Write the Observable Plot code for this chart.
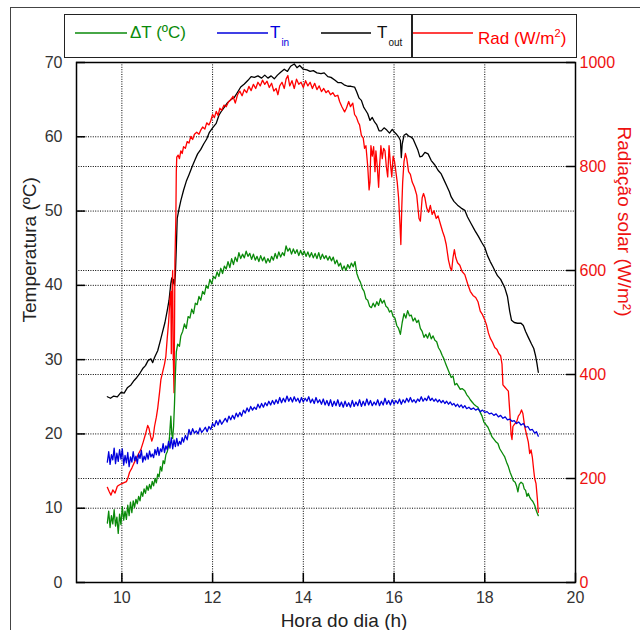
<!DOCTYPE html>
<html><head><meta charset="utf-8">
<script src="https://cdn.jsdelivr.net/npm/d3@7"></script>
<script src="https://cdn.jsdelivr.net/npm/@observablehq/plot@0.6"></script>
<style>
body{margin:0;background:#fff;font-family:Arial,"Liberation Sans",sans-serif;}
#wrap{position:relative;width:640px;height:630px;overflow:hidden;}
#border{position:absolute;left:10px;top:7px;width:700px;height:700px;border-left:1.5px solid #444;border-top:1.5px solid #444;}
#chart{position:absolute;left:0;top:0;}
#legend{position:absolute;left:64px;top:14px;width:513px;height:44px;border:1.5px solid #222;box-sizing:border-box;background:#fff;font-size:17px;}
#legend svg.ln{position:absolute;top:16px;overflow:visible;}
#legend .tx{position:absolute;top:8px;white-space:nowrap;line-height:20px;}
#legend .sub{font-size:10px;position:relative;top:8px;margin-left:1px;}
#legend .div{position:absolute;left:346px;top:0;height:100%;width:1.5px;background:#222;}
</style>
</head><body>
<div id="wrap"><div id="border"></div><div id="chart"></div><div id="legend"></div></div>
<script>
// ---- data ----
const xTicks = [10, 12, 14, 16, 18, 20];
const xGrid = [10, 12, 14, 16, 18];
const yTicks = [0, 10, 20, 30, 40, 50, 60, 70];
const yGrid = [10, 20, 30, 40, 50, 60];
const radTicks = [0, 200, 400, 600, 800, 1000];
const radGrid = [200, 400, 600, 800];
const tMax = 70, radMax = 1000;

const seriesNames = ["ΔT (ºC)", "T_in", "T_out", "Rad (W/m²)"];
const seriesColors = ["#0a8a0a", "#0000dd", "#000000", "#ff0000"];

// T_out (ºC)
const tOut = [[9.68,25.0],[9.75,24.8],[9.82,25.1],[9.9,25.0],[9.98,25.6],[10.05,25.5],[10.12,26.2],[10.2,26.6],[10.27,27.2],[10.33,27.6],[10.4,28.2],[10.46,28.8],[10.52,29.2],[10.58,29.9],[10.64,30.1],[10.68,29.6],[10.72,30.3],[10.79,31.2],[10.85,32.6],[10.9,33.8],[10.95,35.0],[11.0,36.6],[11.04,38.0],[11.08,40.3],[11.1,41.0],[11.12,40.2],[11.14,40.8],[11.16,40.0],[11.18,41.5],[11.2,45.0],[11.22,49.0],[11.26,50.3],[11.3,51.4],[11.36,52.8],[11.42,54.0],[11.48,54.9],[11.55,56.0],[11.62,57.0],[11.67,57.7],[11.74,58.3],[11.8,59.0],[11.87,59.7],[11.93,60.6],[12.0,61.2],[12.08,61.8],[12.14,62.9],[12.2,63.5],[12.26,64.0],[12.33,64.6],[12.4,65.0],[12.48,65.3],[12.55,66.0],[12.62,66.7],[12.7,67.1],[12.78,67.6],[12.85,68.1],[12.92,68.0],[13.0,68.2],[13.08,67.9],[13.15,68.3],[13.22,67.9],[13.29,68.2],[13.36,67.8],[13.43,68.3],[13.5,68.7],[13.58,69.1],[13.65,68.8],[13.72,69.5],[13.8,69.8],[13.86,69.3],[13.92,69.6],[14.0,69.1],[14.08,69.0],[14.15,68.8],[14.22,68.9],[14.3,68.6],[14.39,68.5],[14.46,68.6],[14.54,68.1],[14.61,68.0],[14.7,67.6],[14.76,67.3],[14.83,67.3],[14.9,67.0],[14.98,66.8],[15.05,66.8],[15.13,66.7],[15.18,66.0],[15.23,65.2],[15.28,64.9],[15.33,64.0],[15.38,63.5],[15.42,63.1],[15.47,62.2],[15.52,62.6],[15.57,62.0],[15.62,61.6],[15.67,60.8],[15.72,60.8],[15.78,61.2],[15.84,60.9],[15.9,60.5],[15.96,61.0],[16.01,60.6],[16.06,60.3],[16.1,60.0],[16.14,59.5],[16.16,57.2],[16.18,59.0],[16.22,60.2],[16.27,60.4],[16.32,60.1],[16.37,60.0],[16.42,59.7],[16.47,59.0],[16.52,58.3],[16.57,57.3],[16.62,57.4],[16.68,57.9],[16.75,57.7],[16.82,56.8],[16.9,56.2],[16.97,55.5],[17.04,55.0],[17.1,54.2],[17.16,53.4],[17.22,52.6],[17.26,51.9],[17.32,51.3],[17.4,50.8],[17.48,50.4],[17.56,50.1],[17.62,49.2],[17.7,48.3],[17.78,47.4],[17.86,46.6],[17.93,45.8],[18.0,45.1],[18.06,44.0],[18.12,43.2],[18.18,42.5],[18.22,42.0],[18.28,41.3],[18.35,40.8],[18.44,39.7],[18.5,38.5],[18.55,36.5],[18.59,35.3],[18.65,35.0],[18.72,34.9],[18.8,34.9],[18.85,34.6],[18.9,33.8],[18.96,33.0],[19.03,32.1],[19.08,31.5],[19.12,30.5],[19.15,29.5],[19.18,28.3]];

// Radiation (W/m²)
const rad = [[9.68,183],[9.72,175],[9.76,168],[9.8,178],[9.85,172],[9.9,185],[9.95,188],[10.0,190],[10.05,192],[10.1,194],[10.13,200],[10.17,212],[10.22,220],[10.27,230],[10.32,238],[10.37,248],[10.42,256],[10.47,270],[10.52,285],[10.57,302],[10.6,296],[10.63,282],[10.66,272],[10.69,280],[10.72,300],[10.76,318],[10.79,335],[10.83,365],[10.86,390],[10.9,405],[10.94,420],[10.97,435],[11.0,470],[11.03,500],[11.06,545],[11.08,560],[11.09,440],[11.1,540],[11.12,600],[11.13,450],[11.15,365],[11.16,480],[11.17,620],[11.19,700],[11.2,790],[11.21,818],[11.24,822],[11.27,815],[11.3,830],[11.33,825],[11.36,838],[11.4,835],[11.44,848],[11.48,845],[11.52,858],[11.56,852],[11.6,862],[11.65,866],[11.7,862],[11.74,870],[11.78,876],[11.83,872],[11.87,884],[11.92,880],[11.96,888],[12.0,900],[12.04,894],[12.08,906],[12.12,898],[12.16,912],[12.2,908],[12.25,918],[12.3,915],[12.35,924],[12.4,928],[12.45,935],[12.5,922],[12.55,938],[12.6,945],[12.65,936],[12.7,948],[12.75,942],[12.8,954],[12.85,946],[12.9,958],[12.95,950],[13.0,962],[13.05,955],[13.1,966],[13.15,958],[13.2,964],[13.25,952],[13.3,960],[13.35,945],[13.4,950],[13.44,938],[13.48,955],[13.53,962],[13.58,950],[13.62,968],[13.66,975],[13.7,955],[13.75,965],[13.8,950],[13.85,968],[13.9,958],[13.95,962],[14.0,952],[14.05,965],[14.1,955],[14.15,962],[14.2,950],[14.25,960],[14.3,948],[14.35,955],[14.4,944],[14.45,950],[14.5,942],[14.55,946],[14.6,938],[14.65,942],[14.7,935],[14.76,937],[14.8,925],[14.85,915],[14.91,905],[14.95,912],[15.0,925],[15.04,915],[15.09,922],[15.13,900],[15.17,895],[15.21,885],[15.24,880],[15.28,860],[15.32,855],[15.35,835],[15.38,840],[15.42,800],[15.45,755],[15.47,770],[15.49,840],[15.52,820],[15.55,838],[15.58,790],[15.6,830],[15.63,800],[15.66,760],[15.68,800],[15.71,840],[15.74,815],[15.77,835],[15.8,830],[15.83,800],[15.86,780],[15.89,840],[15.92,805],[15.95,780],[15.98,820],[16.01,810],[16.04,790],[16.07,770],[16.1,740],[16.13,690],[16.15,650],[16.17,720],[16.19,770],[16.22,810],[16.25,825],[16.28,815],[16.32,790],[16.36,785],[16.4,770],[16.45,760],[16.5,745],[16.55,700],[16.58,695],[16.62,740],[16.65,748],[16.68,740],[16.72,720],[16.76,712],[16.8,725],[16.84,708],[16.88,715],[16.93,700],[16.97,705],[17.02,690],[17.07,675],[17.11,665],[17.15,650],[17.2,620],[17.24,605],[17.27,600],[17.3,625],[17.33,640],[17.36,625],[17.4,615],[17.45,610],[17.5,598],[17.56,592],[17.62,575],[17.68,560],[17.74,552],[17.8,548],[17.85,540],[17.9,522],[17.95,515],[18.0,505],[18.04,495],[18.08,480],[18.12,470],[18.17,462],[18.22,452],[18.27,448],[18.31,440],[18.35,436],[18.38,420],[18.4,380],[18.44,376],[18.48,372],[18.52,368],[18.55,330],[18.58,285],[18.6,275],[18.62,300],[18.66,305],[18.7,308],[18.74,320],[18.78,325],[18.81,332],[18.84,325],[18.88,300],[18.92,285],[18.96,270],[18.99,248],[19.02,255],[19.05,240],[19.08,215],[19.1,200],[19.13,190],[19.16,160],[19.18,135]];

// T_in (ºC)
const tIn = [[9.68,16.2],[9.71,17.6],[9.74,15.9],[9.77,17.2],[9.8,16.5],[9.83,18.1],[9.86,16.0],[9.89,17.4],[9.92,16.3],[9.95,17.9],[9.98,16.6],[10.01,18.0],[10.04,15.8],[10.07,17.1],[10.1,16.1],[10.13,17.5],[10.16,15.6],[10.19,16.9],[10.22,16.2],[10.25,17.6],[10.28,16.4],[10.31,17.0],[10.34,16.0],[10.37,17.3],[10.4,16.7],[10.43,17.8],[10.46,16.2],[10.49,17.0],[10.52,16.5],[10.55,17.4],[10.58,16.6],[10.61,17.7],[10.64,16.9],[10.67,17.3],[10.7,16.8],[10.73,17.9],[10.76,17.2],[10.79,18.2],[10.82,17.1],[10.85,18.0],[10.88,17.6],[10.91,18.7],[10.94,17.5],[10.97,18.4],[11.0,17.9],[11.03,19.0],[11.06,18.1],[11.09,19.5],[11.12,18.0],[11.15,19.2],[11.18,18.3],[11.21,19.4],[11.24,18.4],[11.27,19.0],[11.3,18.6],[11.33,19.5],[11.36,18.9],[11.4,19.8],[11.44,19.2],[11.48,20.6],[11.52,19.9],[11.56,20.7],[11.6,20.1],[11.64,20.4],[11.68,20.0],[11.72,20.8],[11.76,20.2],[11.8,20.5],[11.84,20.9],[11.88,20.3],[11.92,21.0],[11.96,20.6],[12.0,21.4],[12.04,21.0],[12.08,21.8],[12.12,21.2],[12.16,21.9],[12.2,21.3],[12.24,21.7],[12.28,22.1],[12.32,21.6],[12.36,22.4],[12.4,21.9],[12.44,22.5],[12.48,22.0],[12.52,22.8],[12.56,22.3],[12.6,22.9],[12.64,22.4],[12.68,23.2],[12.72,22.8],[12.76,23.5],[12.8,23.0],[12.84,23.7],[12.88,23.2],[12.92,23.6],[12.96,23.3],[13.0,24.0],[13.04,23.5],[13.08,24.1],[13.12,23.6],[13.16,24.2],[13.2,23.8],[13.24,24.4],[13.28,23.9],[13.32,24.5],[13.36,24.0],[13.4,24.6],[13.44,24.1],[13.48,24.9],[13.52,24.2],[13.56,24.8],[13.6,24.3],[13.64,25.1],[13.68,24.4],[13.72,24.9],[13.76,24.3],[13.8,25.0],[13.84,24.4],[13.88,24.8],[13.92,24.2],[13.96,24.9],[14.0,24.3],[14.04,24.8],[14.08,24.4],[14.12,25.0],[14.16,24.2],[14.2,24.7],[14.24,24.1],[14.28,24.9],[14.32,24.2],[14.36,24.6],[14.4,24.0],[14.44,24.7],[14.48,23.9],[14.52,24.5],[14.56,23.8],[14.6,24.6],[14.64,23.7],[14.68,24.4],[14.72,23.8],[14.76,24.6],[14.8,23.7],[14.84,24.3],[14.88,23.6],[14.92,24.4],[14.96,23.7],[15.0,24.2],[15.04,23.6],[15.08,24.5],[15.12,23.7],[15.16,24.3],[15.2,23.8],[15.24,24.6],[15.28,23.7],[15.32,24.4],[15.36,23.8],[15.4,24.7],[15.44,23.9],[15.48,24.5],[15.52,23.8],[15.56,24.3],[15.6,23.9],[15.64,24.6],[15.68,23.8],[15.72,24.4],[15.76,23.9],[15.8,24.8],[15.84,24.0],[15.88,24.5],[15.92,23.9],[15.96,24.6],[16.0,24.0],[16.04,24.5],[16.08,24.1],[16.12,24.7],[16.16,24.0],[16.2,24.6],[16.24,24.2],[16.28,24.8],[16.32,24.3],[16.36,24.9],[16.4,24.3],[16.44,24.6],[16.48,24.2],[16.52,24.7],[16.56,24.4],[16.6,25.0],[16.64,24.4],[16.68,24.8],[16.72,24.5],[16.76,25.1],[16.8,24.5],[16.84,24.8],[16.88,24.4],[16.92,24.7],[16.96,24.3],[17.0,24.6],[17.04,24.2],[17.08,24.5],[17.12,24.1],[17.16,24.4],[17.2,24.0],[17.24,24.3],[17.28,23.9],[17.32,24.1],[17.36,23.7],[17.4,24.0],[17.44,23.6],[17.48,23.9],[17.52,23.5],[17.56,23.8],[17.6,23.4],[17.65,23.6],[17.7,23.3],[17.75,23.5],[17.8,23.2],[17.85,23.4],[17.9,23.0],[17.95,23.2],[18.0,22.9],[18.05,23.0],[18.1,22.7],[18.15,22.8],[18.2,22.5],[18.25,22.7],[18.3,22.3],[18.35,22.5],[18.4,22.1],[18.45,22.3],[18.5,21.9],[18.55,22.0],[18.6,21.7],[18.65,21.8],[18.7,21.4],[18.75,21.6],[18.8,21.2],[18.85,21.4],[18.9,20.9],[18.95,21.0],[19.0,20.5],[19.05,20.6],[19.1,20.1],[19.14,20.3],[19.18,19.7]];

// ΔT (ºC)
const dT = [[9.68,8.0],[9.71,9.6],[9.74,7.4],[9.77,9.0],[9.8,7.9],[9.83,9.8],[9.86,7.6],[9.89,8.8],[9.92,6.6],[9.95,9.2],[9.98,7.8],[10.01,10.2],[10.04,8.4],[10.07,9.6],[10.1,8.5],[10.13,10.4],[10.16,9.0],[10.19,10.8],[10.22,9.4],[10.25,11.0],[10.28,10.1],[10.31,11.2],[10.34,10.6],[10.37,11.6],[10.4,11.0],[10.43,12.2],[10.46,11.6],[10.49,12.6],[10.52,12.0],[10.55,13.0],[10.58,12.4],[10.61,13.2],[10.64,12.6],[10.67,13.6],[10.7,13.0],[10.73,14.0],[10.76,13.4],[10.79,14.6],[10.82,14.2],[10.85,15.6],[10.88,15.0],[10.91,16.4],[10.94,16.0],[10.97,17.2],[11.0,17.6],[11.03,18.4],[11.05,19.6],[11.07,21.5],[11.08,22.4],[11.1,20.0],[11.12,19.4],[11.14,21.0],[11.16,24.0],[11.18,28.0],[11.2,31.0],[11.23,32.1],[11.27,31.8],[11.3,33.2],[11.34,33.8],[11.38,34.8],[11.42,34.2],[11.46,35.8],[11.5,35.6],[11.54,36.8],[11.58,36.2],[11.62,37.6],[11.66,37.4],[11.7,38.5],[11.74,38.0],[11.78,39.2],[11.82,38.8],[11.86,40.0],[11.9,39.6],[11.94,40.8],[11.98,40.2],[12.02,41.2],[12.06,40.9],[12.1,41.8],[12.14,41.2],[12.18,42.3],[12.22,41.6],[12.26,42.6],[12.3,42.2],[12.34,43.2],[12.38,42.4],[12.42,43.6],[12.46,42.8],[12.5,43.8],[12.54,43.2],[12.58,44.4],[12.62,43.6],[12.66,44.2],[12.7,43.7],[12.74,44.6],[12.78,43.9],[12.82,44.3],[12.86,43.5],[12.9,44.2],[12.94,43.4],[12.98,43.9],[13.02,43.2],[13.06,44.0],[13.1,43.3],[13.14,43.8],[13.18,43.0],[13.22,43.6],[13.26,43.1],[13.3,43.9],[13.34,43.4],[13.38,44.3],[13.42,43.6],[13.46,44.5],[13.5,43.8],[13.54,44.4],[13.58,44.0],[13.62,45.3],[13.66,44.6],[13.7,45.0],[13.74,44.2],[13.78,44.9],[13.82,44.3],[13.86,44.8],[13.9,44.0],[13.94,44.7],[13.98,44.1],[14.02,44.6],[14.06,43.9],[14.1,44.5],[14.14,43.8],[14.18,44.4],[14.22,43.7],[14.26,44.3],[14.3,43.6],[14.34,44.4],[14.38,43.5],[14.42,44.2],[14.46,43.6],[14.5,44.0],[14.54,43.4],[14.58,43.9],[14.62,43.3],[14.66,43.8],[14.7,42.9],[14.74,43.4],[14.78,42.6],[14.82,43.0],[14.86,42.1],[14.9,42.6],[14.94,42.0],[14.98,42.8],[15.02,42.3],[15.06,43.0],[15.1,42.5],[15.14,43.2],[15.18,41.6],[15.22,40.9],[15.26,40.4],[15.3,39.6],[15.34,39.2],[15.38,38.2],[15.42,38.0],[15.46,37.2],[15.5,37.0],[15.54,37.6],[15.58,37.1],[15.62,37.8],[15.66,37.3],[15.7,38.2],[15.74,37.6],[15.78,38.0],[15.82,37.2],[15.86,37.0],[15.9,36.4],[15.94,36.6],[15.98,35.8],[16.02,35.6],[16.06,34.6],[16.1,34.2],[16.14,33.4],[16.18,35.0],[16.22,36.2],[16.26,35.6],[16.3,36.6],[16.34,35.9],[16.38,36.0],[16.42,35.2],[16.46,35.6],[16.5,35.0],[16.54,35.3],[16.58,34.2],[16.62,33.8],[16.66,33.0],[16.7,33.4],[16.74,32.9],[16.78,33.6],[16.82,32.8],[16.86,33.2],[16.9,32.6],[16.94,32.4],[16.98,31.6],[17.02,31.2],[17.06,30.6],[17.1,30.1],[17.14,29.4],[17.18,28.8],[17.22,28.2],[17.26,27.6],[17.3,27.8],[17.34,26.6],[17.38,26.8],[17.42,26.4],[17.46,26.0],[17.5,26.1],[17.56,25.8],[17.6,25.3],[17.64,25.0],[17.68,24.6],[17.72,24.3],[17.76,24.0],[17.8,23.8],[17.85,23.6],[17.9,22.9],[17.94,22.4],[17.98,21.6],[18.02,21.3],[18.07,20.9],[18.12,20.2],[18.16,19.6],[18.2,19.3],[18.25,18.9],[18.29,18.7],[18.33,18.0],[18.37,17.6],[18.41,17.2],[18.44,16.9],[18.48,16.2],[18.52,15.6],[18.56,14.8],[18.6,14.2],[18.63,13.7],[18.67,13.5],[18.7,13.0],[18.73,12.2],[18.76,13.2],[18.8,13.5],[18.84,13.3],[18.87,12.6],[18.9,12.4],[18.93,11.6],[18.96,12.0],[18.99,11.5],[19.02,11.2],[19.06,10.9],[19.1,10.4],[19.14,9.6],[19.18,9.0]];

const xLabel = "Hora do dia (h)";
const yLabel = "Temperatura (ºC)";
const y2Label = "Radiação solar (W/m²)";

// ---- chart ----
const toT = r => r * tMax / radMax;
const font = "Arial, 'Liberation Sans', sans-serif";
const tickLenX = 0.2, tickLenY = 1.25;

const chart = Plot.plot({
  width: 640, height: 630,
  marginLeft: 76, marginRight: 65, marginTop: 62, marginBottom: 48,
  x: {domain: [9, 20]},
  y: {domain: [0, tMax]},
  style: {fontFamily: font, fontSize: "16px", background: "transparent", overflow: "visible"},
  marks: [
    Plot.ruleX(xGrid, {stroke: "#000", strokeWidth: 1, strokeDasharray: "1,1.4"}),
    Plot.ruleY(yGrid, {stroke: "#000", strokeWidth: 1, strokeDasharray: "1,1.4"}),
    Plot.ruleY(radGrid.map(toT), {stroke: "#000", strokeWidth: 1, strokeDasharray: "1,1.4"}),
    // inward tick marks
    Plot.ruleY(yTicks, {x1: 9, x2: 9 + tickLenX, stroke: "#000", strokeWidth: 1.5}),
    Plot.ruleY(radTicks.map(toT), {x1: 20 - tickLenX, x2: 20, stroke: "#000", strokeWidth: 1.5}),
    Plot.ruleX(xTicks, {y1: 0, y2: tickLenY, stroke: "#000", strokeWidth: 1.5}),
    // series
    Plot.line(tOut, {x: d => d[0], y: d => d[1], stroke: seriesColors[2], strokeWidth: 1.3}),
    Plot.line(rad, {x: d => d[0], y: d => toT(d[1]), stroke: seriesColors[3], strokeWidth: 1.3}),
    Plot.line(dT, {x: d => d[0], y: d => d[1], stroke: seriesColors[0], strokeWidth: 1.3}),
    Plot.line(tIn, {x: d => d[0], y: d => d[1], stroke: seriesColors[1], strokeWidth: 1.3}),
    Plot.frame({stroke: "#000", strokeWidth: 1.5}),
    // axes
    Plot.axisX(xTicks, {anchor: "bottom", tickSize: 0, tickPadding: 9, label: null, fill: "#333", fontSize: 16}),
    Plot.axisY(yTicks, {anchor: "left", tickSize: 0, tickPadding: 14, label: null, fill: "#333", fontSize: 16}),
    Plot.axisY(radTicks.map(toT), {anchor: "right", tickSize: 0, tickPadding: 4, label: null, fill: "#ee1111", fontSize: 16,
      tickFormat: d => String(Math.round(d * radMax / tMax))}),
    // axis titles
    Plot.text([xLabel], {frameAnchor: "bottom", text: d => d, dx: 18, dy: 38, fontSize: 19, fill: "#222", lineAnchor: "middle"}),
    Plot.text([yLabel], {frameAnchor: "left", text: d => d, dx: -47, rotate: -90, fontSize: 19, fill: "#222", lineAnchor: "middle"}),
    Plot.text([y2Label], {frameAnchor: "right", text: d => d, dx: 49, dy: -6, rotate: 90, fontSize: 19, fill: "#ee1111", lineAnchor: "middle"})
  ]
});
document.getElementById("chart").appendChild(chart);

// ---- legend ----
const lg = document.getElementById("legend");
const items = [
  {i: 0, x1: 10, x2: 62, tx: 65, html: "ΔT (ºC)"},
  {i: 1, x1: 152, x2: 203, tx: 205, html: "T<span class='sub'>in</span>"},
  {i: 2, x1: 256, x2: 306, tx: 312, html: "T<span class='sub'>out</span>"},
  {i: 3, x1: 348, x2: 408, tx: 413, html: "Rad (W/m<sup style='font-size:11px'>2</sup>)"}
];
const svgNS = "http://www.w3.org/2000/svg";
for (const it of items) {
  const s = document.createElementNS(svgNS, "svg");
  s.setAttribute("class", "ln");
  s.setAttribute("width", it.x2 - it.x1);
  s.setAttribute("height", 4);
  s.style.left = it.x1 + "px";
  const ln = document.createElementNS(svgNS, "line");
  ln.setAttribute("x1", 0); ln.setAttribute("x2", it.x2 - it.x1);
  ln.setAttribute("y1", 2); ln.setAttribute("y2", 2);
  ln.setAttribute("stroke", seriesColors[it.i]);
  ln.setAttribute("stroke-width", 1.5);
  s.appendChild(ln);
  lg.appendChild(s);
  const t = document.createElement("div");
  t.className = "tx"; t.style.left = it.tx + "px"; t.style.color = seriesColors[it.i];
  if (it.i === 2) t.style.color = "#111";
  t.innerHTML = it.html;
  lg.appendChild(t);
}
const dv = document.createElement("div"); dv.className = "div"; lg.appendChild(dv);
</script>
</body></html>
